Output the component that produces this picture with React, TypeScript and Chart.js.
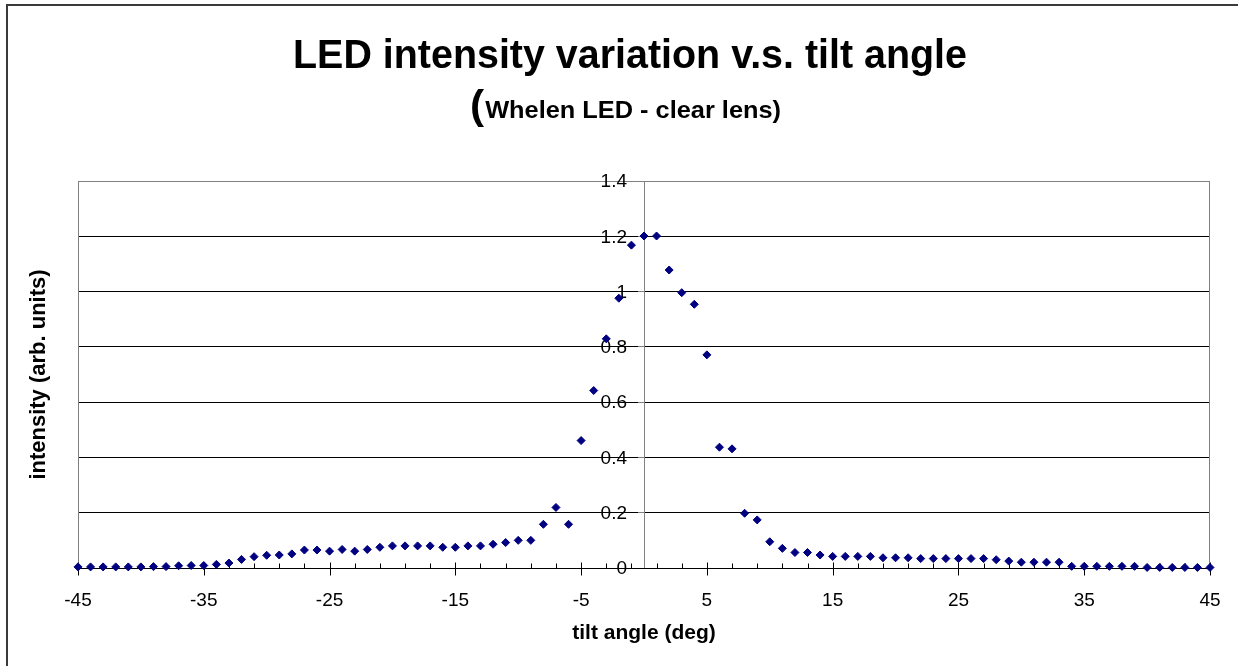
import React, { useEffect, useRef } from "react";
import { Chart, registerables } from "chart.js";

Chart.register(...registerables);

const TITLE = "LED intensity variation v.s. tilt angle";
const SUBTITLE_PAREN = "(";
const SUBTITLE_REST = "Whelen LED - clear lens)";
const X_TITLE = "tilt angle (deg)";
const Y_TITLE = "intensity (arb. units)";

const angles = [
  -45, -44, -43, -42, -41, -40, -39, -38, -37, -36, -35, -34, -33, -32, -31,
  -30, -29, -28, -27, -26, -25, -24, -23, -22, -21, -20, -19, -18, -17, -16,
  -15, -14, -13, -12, -11, -10, -9, -8, -7, -6, -5, -4, -3, -2, -1,
  0, 1, 2, 3, 4, 5, 6, 7, 8, 9, 10, 11, 12, 13, 14,
  15, 16, 17, 18, 19, 20, 21, 22, 23, 24, 25, 26, 27, 28, 29,
  30, 31, 32, 33, 34, 35, 36, 37, 38, 39, 40, 41, 42, 43, 44, 45,
];

const intensity = [
  0.004, 0.004, 0.004, 0.004, 0.004, 0.004, 0.005, 0.005, 0.008, 0.009, 0.009, 0.013, 0.018, 0.031, 0.041,
  0.046, 0.047, 0.051, 0.065, 0.065, 0.061, 0.067, 0.061, 0.067, 0.075, 0.08, 0.08, 0.08, 0.08, 0.075,
  0.075, 0.08, 0.08, 0.086, 0.092, 0.1, 0.1, 0.158, 0.219, 0.158, 0.461, 0.642, 0.829, 0.976, 1.168,
  1.201, 1.201, 1.078, 0.996, 0.954, 0.771, 0.437, 0.431, 0.198, 0.174, 0.095, 0.071, 0.056, 0.056, 0.047,
  0.042, 0.042, 0.042, 0.042, 0.037, 0.037, 0.037, 0.034, 0.034, 0.034, 0.034, 0.034, 0.034, 0.03, 0.025,
  0.021, 0.021, 0.021, 0.021, 0.006, 0.006, 0.006, 0.006, 0.006, 0.006, 0.002, 0.002, 0.002, 0.002, 0.002, 0.002,
];

const xTickValues = [-45, -35, -25, -15, -5, 5, 15, 25, 35, 45];
const xMinorTickValues = [
  -43, -41, -39, -37, -33, -31, -29, -27, -23, -21, -19, -17, -13, -11, -9, -7, -3, -1,
  1, 3, 7, 9, 11, 13, 17, 19, 21, 23, 27, 29, 31, 33, 37, 39, 41, 43,
];
const yTickValues = [0, 0.2, 0.4, 0.6, 0.8, 1, 1.2, 1.4];
const yTickLabels = ["0", "0.2", "0.4", "0.6", "0.8", "1", "1.2", "1.4"];

const FONT = "'Liberation Sans', Arial, Helvetica, sans-serif";

const decorPlugin = {
  id: "decor",
  beforeDraw(chart: any) {
    const ctx = chart.ctx;
    ctx.save();
    ctx.fillStyle = "#ffffff";
    ctx.fillRect(0, 0, chart.width, chart.height);
    ctx.strokeStyle = "#3a3a3a";
    ctx.lineWidth = 2;
    ctx.beginPath();
    ctx.moveTo(7, chart.height + 4);
    ctx.lineTo(7, 5);
    ctx.lineTo(chart.width + 4, 5);
    ctx.stroke();
    ctx.restore();
  },
  beforeDatasetsDraw(chart: any) {
    const { ctx, chartArea: a, scales } = chart;
    const xs = scales.x;
    const ys = scales.y;
    ctx.save();
    ctx.strokeStyle = "#808080";
    ctx.lineWidth = 1;
    ctx.beginPath();
    ctx.moveTo(a.left + 0.5, a.bottom);
    ctx.lineTo(a.left + 0.5, a.top + 0.5);
    ctx.lineTo(a.right - 0.5, a.top + 0.5);
    ctx.lineTo(a.right - 0.5, a.bottom);
    ctx.stroke();
    const y0 = Math.round(ys.getPixelForValue(0)) + 0.5;
    ctx.strokeStyle = "#000000";
    ctx.beginPath();
    ctx.moveTo(a.left, y0);
    ctx.lineTo(a.right, y0);
    for (const v of xMinorTickValues) {
      const px = Math.round(xs.getPixelForValue(v)) + 0.5;
      ctx.moveTo(px, y0 - 5);
      ctx.lineTo(px, y0);
    }
    for (const v of xTickValues) {
      const px = Math.round(xs.getPixelForValue(v)) + 0.5;
      ctx.moveTo(px, y0 - 6);
      ctx.lineTo(px, y0 + 7);
    }
    ctx.stroke();
    // y tick labels, left of the centred axis
    const ax = xs.getPixelForValue(0);
    ctx.fillStyle = "#000000";
    ctx.font = `19px ${FONT}`;
    ctx.textAlign = "right";
    ctx.textBaseline = "middle";
    yTickValues.forEach((v, i) => {
      ctx.fillText(yTickLabels[i], ax - 17, ys.getPixelForValue(v) + 1);
    });
    ctx.restore();
  },
  afterDraw(chart: any) {
    const ctx = chart.ctx;
    const a = chart.chartArea;
    ctx.save();
    ctx.fillStyle = "#000000";
    ctx.textBaseline = "alphabetic";
    // main title
    ctx.font = `bold 40px ${FONT}`;
    const tw = ctx.measureText(TITLE).width;
    const ts = 674 / tw;
    ctx.save();
    ctx.translate(630, 68);
    ctx.scale(ts, 1);
    ctx.textAlign = "center";
    ctx.fillText(TITLE, 0, 0);
    ctx.restore();
    // subtitle
    ctx.font = `bold 40px ${FONT}`;
    const wp = ctx.measureText(SUBTITLE_PAREN).width;
    ctx.font = `bold 24px ${FONT}`;
    const wr = ctx.measureText(SUBTITLE_REST).width;
    const ss = 310 / (wp + wr);
    ctx.save();
    ctx.translate(470, 119);
    ctx.scale(ss, 1);
    ctx.textAlign = "left";
    ctx.font = `bold 40px ${FONT}`;
    ctx.fillText(SUBTITLE_PAREN, 0, 0);
    ctx.font = `bold 24px ${FONT}`;
    ctx.fillText(SUBTITLE_REST, wp + 1, -1);
    ctx.restore();
    // y axis title
    ctx.save();
    ctx.translate(39, (a.top + a.bottom) / 2);
    ctx.rotate(-Math.PI / 2);
    ctx.font = `bold 22px ${FONT}`;
    ctx.textAlign = "center";
    ctx.textBaseline = "middle";
    ctx.fillText(Y_TITLE, 0, 0);
    ctx.restore();
    ctx.restore();
  },
};

export default function App() {
  const canvasRef = useRef<HTMLCanvasElement | null>(null);

  useEffect(() => {
    if (!canvasRef.current) return;
    Chart.defaults.font.family = FONT;
    const chart = new Chart(canvasRef.current, {
      type: "scatter",
      data: {
        datasets: [
          {
            label: "intensity",
            data: angles.map((a, i) => ({ x: a, y: intensity[i] })),
            pointStyle: "rectRot",
            pointRadius: 4,
            pointBackgroundColor: "#000080",
            pointBorderColor: "#000080",
            pointBorderWidth: 1,
            showLine: false,
            clip: false as any,
          },
        ],
      },
      options: {
        animation: false,
        responsive: false,
        maintainAspectRatio: false,
        layout: { padding: { left: 78, right: 28, top: 181, bottom: 22.4 } },
        plugins: {
          legend: { display: false },
          tooltip: { enabled: false },
          title: { display: false },
        },
        scales: {
          x: {
            type: "linear",
            position: "bottom",
            min: -45,
            max: 45,
            afterBuildTicks: (s: any) => {
              s.ticks = xTickValues.map((v) => ({ value: v }));
            },
            afterFit: (s: any) => {
              s.height = 75.6;
            },
            ticks: {
              font: { size: 19 },
              color: "#000000",
              padding: 13,
              maxRotation: 0,
              autoSkip: false,
              callback: (v: any) => String(v),
            },
            grid: { display: false },
            border: { display: false },
            title: {
              display: true,
              text: X_TITLE,
              color: "#000000",
              font: { size: 21, weight: "bold" },
              padding: { top: 7.6, bottom: -2 },
            },
          },
          y: {
            type: "linear",
            position: { x: 0 } as any,
            min: 0,
            max: 1.4,
            afterBuildTicks: (s: any) => {
              s.ticks = yTickValues.map((v) => ({ value: v }));
            },
            ticks: { display: false },
            grid: {
              color: (c: any) =>
                c.tick && c.tick.value === 1.4
                  ? "#808080"
                  : c.tick && c.tick.value === 0
                  ? "rgba(0,0,0,0)"
                  : "#000000",
              tickColor: "#808080",
              tickLength: 6,
              lineWidth: 1,
            },
            border: { display: true, color: "#808080", width: 1 },
          },
        },
      },
      plugins: [decorPlugin],
    });
    return () => chart.destroy();
  }, []);

  return (
    <div style={{ position: "absolute", left: 0, top: 0, width: 1238, height: 666, background: "#fff" }}>
      <canvas ref={canvasRef} width={1238} height={666} style={{ display: "block" }} />
    </div>
  );
}
